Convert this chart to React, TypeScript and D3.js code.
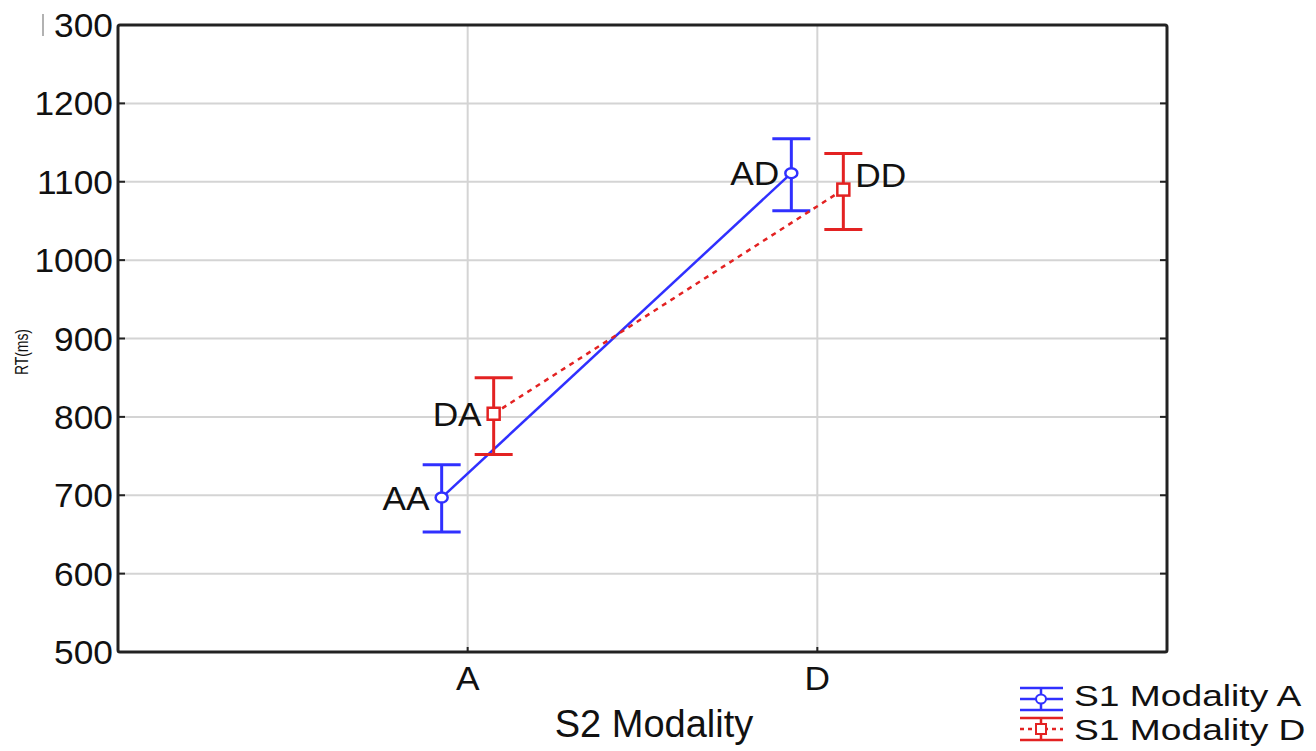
import React from "react";
import * as d3 from "d3";

const categories = ["A", "D"];
const yTicks = [500, 600, 700, 800, 900, 1000, 1100, 1200, 1300];
const seriesNames = ["S1 Modality A", "S1 Modality D"];
const seriesA = [697, 1111];
const seriesALow = [653, 1063];
const seriesAHigh = [739, 1155];
const seriesD = [804, 1090];
const seriesDLow = [752, 1039];
const seriesDHigh = [850, 1136];
const pointLabelsA = ["AA", "AD"];
const pointLabelsD = ["DA", "DD"];

const W = 1316;
const H = 751;
const L = 118, R = 1167, T = 25, B = 652;
const BLUE = "#3030ff";
const RED = "#e32222";
const FONT = "Liberation Sans, Arial, sans-serif";

export default function App() {
  const x = d3.scalePoint<string>().domain(categories).range([L, R]).padding(1);
  const y = d3.scaleLinear().domain([500, 1300]).range([B, T]);
  const off = 26;
  const capW = 19;
  const lineA = d3.line<number>().x((_, i) => x(categories[i])! - off).y((v) => y(v));
  const lineD = d3.line<number>().x((_, i) => x(categories[i])! + off).y((v) => y(v));
  const fs = 33;

  const series = [
    { vals: seriesA, lo: seriesALow, hi: seriesAHigh, color: BLUE, dx: -off, labels: pointLabelsA, marker: "circle", path: lineA, dash: undefined as string | undefined },
    { vals: seriesD, lo: seriesDLow, hi: seriesDHigh, color: RED, dx: off, labels: pointLabelsD, marker: "square", path: lineD, dash: "5,5" },
  ];

  const stretched = (px: number, py: number, anchor: string, text: string, size = fs, sx = 1.07) => (
    <text
      transform={`translate(${px},${py}) scale(${sx},1)`}
      textAnchor={anchor}
      fontFamily={FONT}
      fontSize={size}
      fill="#111"
    >
      {text}
    </text>
  );

  return (
    <svg width={W} height={H} style={{ position: "absolute", left: 0, top: 0, background: "#fff" }}>
      <rect x={0} y={0} width={W} height={H} fill="#fff" />
      {/* gridlines */}
      {yTicks.slice(1, -1).map((t) => (
        <line key={t} x1={L} x2={R} y1={y(t)} y2={y(t)} stroke="#d4d4d4" strokeWidth={2} />
      ))}
      {categories.map((c) => (
        <line key={c} x1={x(c)} x2={x(c)} y1={T} y2={B} stroke="#d4d4d4" strokeWidth={2} />
      ))}
      {/* inner ticks */}
      {yTicks.map((t) => (
        <g key={"tk" + t}>
          <line x1={L} x2={L + 7} y1={y(t)} y2={y(t)} stroke="#222" strokeWidth={2} />
          <line x1={R - 7} x2={R} y1={y(t)} y2={y(t)} stroke="#222" strokeWidth={2} />
        </g>
      ))}
      {categories.map((c) => (
        <line key={"xt" + c} x1={x(c)} x2={x(c)} y1={B - 5} y2={B} stroke="#222" strokeWidth={2} />
      ))}
      {/* frame */}
      <rect x={L} y={T} width={R - L} height={B - T} fill="none" stroke="#222" strokeWidth={3} rx={2} />
      {/* y tick labels */}
      {yTicks.map((t) => (
        <g key={"yl" + t}>{stretched(L - 5, y(t) + 12, "end", t === 1300 ? "300" : String(t))}</g>
      ))}
      <line x1={43} x2={43} y1={14} y2={36} stroke="#999" strokeWidth={1.5} />
      {/* x tick labels */}
      {categories.map((c) => (
        <g key={"xl" + c}>{stretched(x(c)!, 690, "middle", c)}</g>
      ))}
      {stretched(654, 737, "middle", "S2 Modality", 38, 1)}
      <text
        transform="translate(28,352) rotate(-90)"
        textAnchor="middle"
        fontFamily={FONT}
        fontSize={18}
        textLength={46}
        lengthAdjust="spacingAndGlyphs"
        fill="#111"
      >
        RT(ms)
      </text>
      {/* series */}
      {series.map((s, si) => (
        <g key={"s" + si}>
          <path d={s.path(s.vals) || ""} fill="none" stroke={s.color} strokeWidth={2.5} strokeDasharray={s.dash} />
          {s.vals.map((v, i) => {
            const px = x(categories[i])! + s.dx;
            return (
              <g key={i}>
                <line x1={px} x2={px} y1={y(s.lo[i])} y2={y(s.hi[i])} stroke={s.color} strokeWidth={3} />
                <line x1={px - capW} x2={px + capW} y1={y(s.lo[i])} y2={y(s.lo[i])} stroke={s.color} strokeWidth={3} />
                <line x1={px - capW} x2={px + capW} y1={y(s.hi[i])} y2={y(s.hi[i])} stroke={s.color} strokeWidth={3} />
                {s.marker === "circle" ? (
                  <ellipse cx={px} cy={y(v)} rx={6} ry={5} fill="#fff" stroke={s.color} strokeWidth={2.5} />
                ) : (
                  <rect x={px - 6} y={y(v) - 6} width={12} height={12} fill="#fff" stroke={s.color} strokeWidth={2.5} />
                )}
              </g>
            );
          })}
        </g>
      ))}
      {/* point labels */}
      {series.map((s, si) =>
        s.vals.map((v, i) => {
          const px = x(categories[i])! + s.dx;
          const right = si === 1 && i === 1;
          return (
            <g key={"pl" + si + i}>
              {stretched(right ? px + 12 : px - 12, y(v) + (right ? -3 : 12), right ? "start" : "end", s.labels[i])}
            </g>
          );
        })
      )}
      {/* legend */}
      {seriesNames.map((n, i) => {
        const cy = 699 + i * 30;
        const col = i === 0 ? BLUE : RED;
        return (
          <g key={"lg" + i}>
            <line x1={1020} x2={1063} y1={cy - 11} y2={cy - 11} stroke={col} strokeWidth={2.5} />
            <line x1={1020} x2={1063} y1={cy + 11} y2={cy + 11} stroke={col} strokeWidth={2.5} />
            <line x1={1041} x2={1041} y1={cy - 11} y2={cy + 11} stroke={col} strokeWidth={2.5} />
            <line x1={1020} x2={1063} y1={cy} y2={cy} stroke={col} strokeWidth={2.5} strokeDasharray={i === 1 ? "4,4" : undefined} />
            {i === 0 ? (
              <ellipse cx={1041} cy={cy} rx={5} ry={4.5} fill="#fff" stroke={col} strokeWidth={2} />
            ) : (
              <rect x={1036} y={cy - 5} width={10} height={10} fill="#fff" stroke={col} strokeWidth={2} />
            )}
            {stretched(1074, i === 0 ? 706 : 740, "start", n, 30, 1.24)}
          </g>
        );
      })}
    </svg>
  );
}
